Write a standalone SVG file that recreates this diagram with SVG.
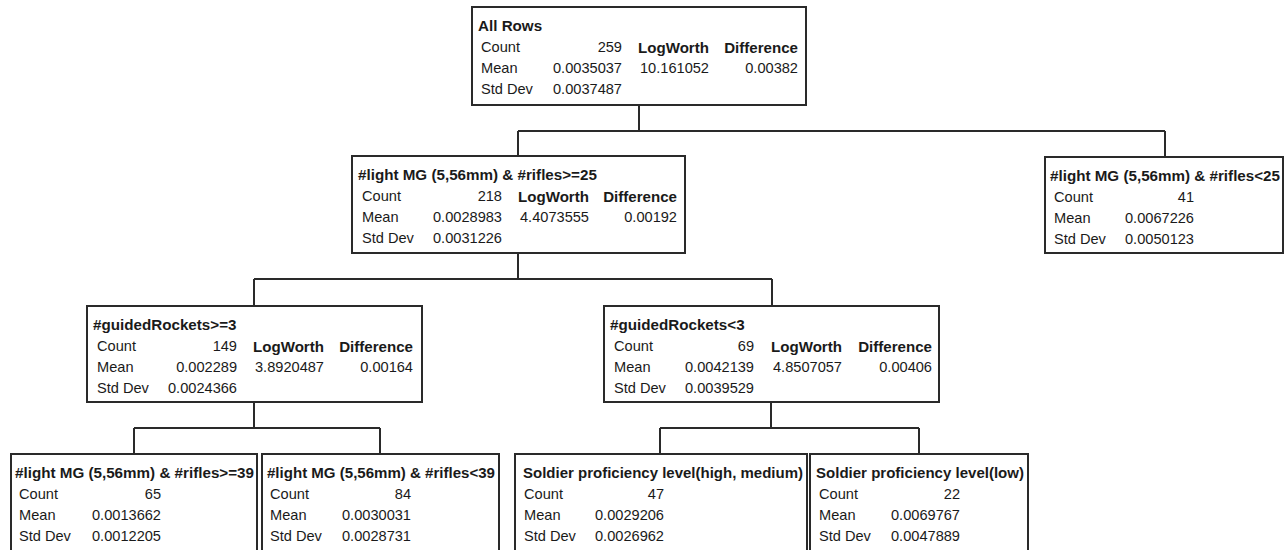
<svg xmlns="http://www.w3.org/2000/svg" width="1286" height="550" viewBox="0 0 1286 550">
<style>
text{font-family:"Liberation Sans",Arial,sans-serif;font-size:14.6px;fill:#1a1a1a}
.t{font-weight:bold;font-size:15.2px}
.h{font-weight:bold;font-size:15.1px}
.r{text-anchor:end}
.box{fill:#fff;stroke:#2a2a2a;stroke-width:2}
.c{fill:none;stroke:#2a2a2a;stroke-width:2}
</style>
<rect width="1286" height="550" fill="#fff"/>
<g id="connectors">
<path class="c" d="M639,105 V131 M518,131 H1165 M518,131 V156 M1165,131 V157"/>
<path class="c" d="M518,253 V279 M254,279 H772 M254,279 V306 M772,279 V306"/>
<path class="c" d="M254,402 V428 M134,428 H380 M134,428 V454 M380,428 V454"/>
<path class="c" d="M771,402 V428 M660,428 H919 M660,428 V454 M919,428 V454"/>
</g>
<g id="root">
<rect class="box" x="472" y="7" width="334" height="98"/>
<text class="t" x="478" y="31">All Rows</text>
<text x="481" y="52">Count</text><text class="r" x="622" y="52">259</text>
<text x="481" y="73">Mean</text><text class="r" x="622" y="73">0.0035037</text>
<text x="481" y="94">Std Dev</text><text class="r" x="622" y="94">0.0037487</text>
<text class="h" x="638" y="53">LogWorth</text><text class="h r" x="798" y="53">Difference</text>
<text x="640" y="73">10.161052</text><text class="r" x="798" y="73">0.00382</text>
</g>
<g id="n_rifles_ge25">
<rect class="box" x="352" y="156" width="333" height="97"/>
<text class="t" x="358" y="180">#light MG (5,56mm) &amp; #rifles&gt;=25</text>
<text x="362" y="201">Count</text><text class="r" x="502" y="201">218</text>
<text x="362" y="222">Mean</text><text class="r" x="502" y="222">0.0028983</text>
<text x="362" y="243">Std Dev</text><text class="r" x="502" y="243">0.0031226</text>
<text class="h" x="518" y="202">LogWorth</text><text class="h r" x="677" y="202">Difference</text>
<text x="520" y="222">4.4073555</text><text class="r" x="677" y="222">0.00192</text>
</g>
<g id="n_rifles_lt25">
<rect class="box" x="1045" y="157" width="238" height="96"/>
<text class="t" x="1050" y="181">#light MG (5,56mm) &amp; #rifles&lt;25</text>
<text x="1054" y="202">Count</text><text class="r" x="1194" y="202">41</text>
<text x="1054" y="223">Mean</text><text class="r" x="1194" y="223">0.0067226</text>
<text x="1054" y="244">Std Dev</text><text class="r" x="1194" y="244">0.0050123</text>
</g>
<g id="n_rockets_ge3">
<rect class="box" x="87" y="306" width="335" height="96"/>
<text class="t" x="93" y="330">#guidedRockets&gt;=3</text>
<text x="97" y="351">Count</text><text class="r" x="237" y="351">149</text>
<text x="97" y="372">Mean</text><text class="r" x="237" y="372">0.002289</text>
<text x="97" y="393">Std Dev</text><text class="r" x="237" y="393">0.0024366</text>
<text class="h" x="253" y="352">LogWorth</text><text class="h r" x="413" y="352">Difference</text>
<text x="255" y="372">3.8920487</text><text class="r" x="413" y="372">0.00164</text>
</g>
<g id="n_rockets_lt3">
<rect class="box" x="604" y="306" width="335" height="96"/>
<text class="t" x="610" y="330">#guidedRockets&lt;3</text>
<text x="614" y="351">Count</text><text class="r" x="754" y="351">69</text>
<text x="614" y="372">Mean</text><text class="r" x="754" y="372">0.0042139</text>
<text x="614" y="393">Std Dev</text><text class="r" x="754" y="393">0.0039529</text>
<text class="h" x="771" y="352">LogWorth</text><text class="h r" x="932" y="352">Difference</text>
<text x="773" y="372">4.8507057</text><text class="r" x="932" y="372">0.00406</text>
</g>
<g id="n_rifles_ge39">
<rect class="box" x="11" y="454" width="246" height="110"/>
<text class="t" x="15" y="478" textLength="239" lengthAdjust="spacingAndGlyphs">#light MG (5,56mm) &amp; #rifles&gt;=39</text>
<text x="19" y="499">Count</text><text class="r" x="161" y="499">65</text>
<text x="19" y="520">Mean</text><text class="r" x="161" y="520">0.0013662</text>
<text x="19" y="541">Std Dev</text><text class="r" x="161" y="541">0.0012205</text>
</g>
<g id="n_rifles_lt39">
<rect class="box" x="262" y="454" width="237" height="110"/>
<text class="t" x="267" y="478" textLength="228" lengthAdjust="spacingAndGlyphs">#light MG (5,56mm) &amp; #rifles&lt;39</text>
<text x="270" y="499">Count</text><text class="r" x="411" y="499">84</text>
<text x="270" y="520">Mean</text><text class="r" x="411" y="520">0.0030031</text>
<text x="270" y="541">Std Dev</text><text class="r" x="411" y="541">0.0028731</text>
</g>
<g id="n_prof_high_medium">
<rect class="box" x="515" y="454" width="292" height="110"/>
<text class="t" x="523" y="478" textLength="280" lengthAdjust="spacingAndGlyphs">Soldier proficiency level(high, medium)</text>
<text x="524" y="499">Count</text><text class="r" x="664" y="499">47</text>
<text x="524" y="520">Mean</text><text class="r" x="664" y="520">0.0029206</text>
<text x="524" y="541">Std Dev</text><text class="r" x="664" y="541">0.0026962</text>
</g>
<g id="n_prof_low">
<rect class="box" x="810" y="454" width="218" height="110"/>
<text class="t" x="816" y="478" textLength="208" lengthAdjust="spacingAndGlyphs">Soldier proficiency level(low)</text>
<text x="819" y="499">Count</text><text class="r" x="960" y="499">22</text>
<text x="819" y="520">Mean</text><text class="r" x="960" y="520">0.0069767</text>
<text x="819" y="541">Std Dev</text><text class="r" x="960" y="541">0.0047889</text>
</g>
</svg>
